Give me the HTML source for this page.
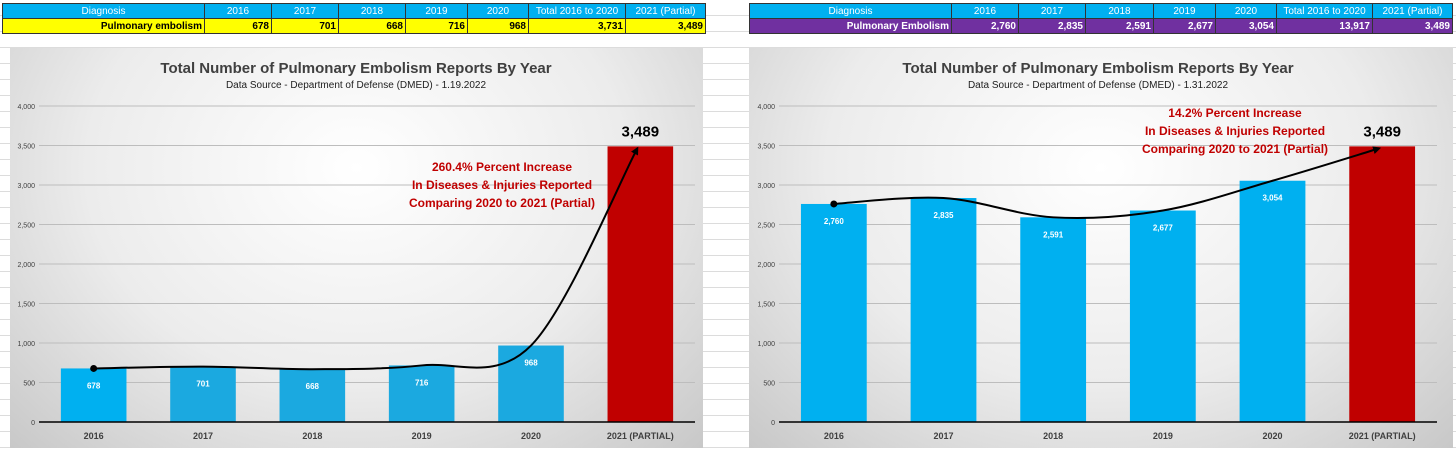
<!DOCTYPE html>
<html><head><meta charset="utf-8"><style>
body{margin:0;width:1456px;height:450px;overflow:hidden;background:#fff;font-family:"Liberation Sans",sans-serif;position:relative}
.grid{position:absolute;inset:0;background-image:repeating-linear-gradient(to bottom,transparent 0,transparent 15px,#dcdcdc 15px,#dcdcdc 16px)}
table{position:absolute;border-collapse:collapse;font-size:10px;font-weight:bold;table-layout:fixed}
td{border:1px solid #333;height:14px;padding:0 2px;text-align:right;white-space:nowrap;overflow:hidden}
tr.h td{background:#00b0f0;color:#fff;text-align:center;font-weight:normal}
.panel{position:absolute;top:48px;height:400px;background:radial-gradient(ellipse at 50% 30%,#fff 0%,#ececec 55%,#c8c8c8 100%)}
svg{position:absolute;left:0;top:0}
</style></head><body>
<div class="grid"></div>
<table style="left:2px;top:3px">
<colgroup><col style="width:202px"><col style="width:67px"><col style="width:67px"><col style="width:67px"><col style="width:62px"><col style="width:61px"><col style="width:97px"><col style="width:80px"></colgroup>
<tr class="h"><td>Diagnosis</td><td>2016</td><td>2017</td><td>2018</td><td>2019</td><td>2020</td><td>Total 2016 to 2020</td><td>2021 (Partial)</td></tr>
<tr style="background:#ffff00;color:#000"><td>Pulmonary embolism</td><td>678</td><td>701</td><td>668</td><td>716</td><td>968</td><td>3,731</td><td>3,489</td></tr></table>
<table style="left:749px;top:3px">
<colgroup><col style="width:202px"><col style="width:67px"><col style="width:67px"><col style="width:68px"><col style="width:62px"><col style="width:61px"><col style="width:96px"><col style="width:80px"></colgroup>
<tr class="h"><td>Diagnosis</td><td>2016</td><td>2017</td><td>2018</td><td>2019</td><td>2020</td><td>Total 2016 to 2020</td><td>2021 (Partial)</td></tr>
<tr style="background:#7030a0;color:#fff"><td>Pulmonary Embolism</td><td>2,760</td><td>2,835</td><td>2,591</td><td>2,677</td><td>3,054</td><td>13,917</td><td>3,489</td></tr></table>
<div class="panel" style="left:10px;width:693px"></div>
<div class="panel" style="left:749px;width:704px"></div>
<svg id="s" width="1456" height="450"></svg>
<script>
const categories=["2016","2017","2018","2019","2020","2021 (PARTIAL)"];
const leftValues=[678,701,668,716,968,3489];
const rightValues=[2760,2835,2591,2677,3054,3489];
const leftLabels=["678","701","668","716","968","3,489"];
const rightLabels=["2,760","2,835","2,591","2,677","3,054","3,489"];
const yTicks=[0,500,1000,1500,2000,2500,3000,3500,4000];
const yTickLabels=["0","500","1,000","1,500","2,000","2,500","3,000","3,500","4,000"];
const NS="http://www.w3.org/2000/svg",svg=document.getElementById('s');
function mk(t,a,p){const e=document.createElementNS(NS,t);for(const k in a)e.setAttribute(k,a[k]);(p||svg).appendChild(e);return e;}
const defs=mk('defs',{});
const m=mk('marker',{id:'ah',markerWidth:8,markerHeight:8,refX:6,refY:4,orient:'auto',markerUnits:'userSpaceOnUse'},defs);
mk('path',{d:'M0,0L8,4L0,8Z',fill:'#000'},m);
function yS(v){return 422-v*79/1000;}
function chart(ox,x0,x1,vals,labels,pfx,titleDate,ann,annX,annY){
  const xS=i=>x0+(i+0.5)*(x1-x0)/categories.length, bw=(x1-x0)/categories.length*0.6;
  const t=mk('text',{x:ox,y:73,'text-anchor':'middle','font-size':15,'font-weight':'bold',fill:'#404040'});t.textContent='Total Number of Pulmonary Embolism Reports By Year';
  
  const st=mk('text',{x:ox,y:88,'text-anchor':'middle','font-size':10,fill:'#202020'});st.textContent='Data Source - Department of Defense (DMED) - '+titleDate;
  
  yTicks.forEach((v,i)=>{
    if(v>0){const g=mk('line',{x1:x0,x2:x1,y1:yS(v),y2:yS(v),stroke:'#bdbdbd','stroke-width':1});}
    const l=mk('text',{x:x0-4,y:yS(v)+3,'text-anchor':'end','font-size':7,fill:'#404040'});l.textContent=yTickLabels[i];
    
  });
  vals.forEach((v,i)=>{
    const last=i===vals.length-1;
    const b=mk('rect',{x:xS(i)-bw/2,y:yS(v),width:bw,height:422-yS(v),fill:last?'#c00000':(pfx==='left'&&i>0?'#1ba9e0':'#00b0f0')});
    
    const lb=mk('text',{x:xS(i),y:last?yS(v)-10:yS(v)+20,'text-anchor':'middle','font-size':last?15:8,'font-weight':'bold',fill:last?'#000':'#fff'});lb.textContent=labels[i];
    
    const xl=mk('text',{x:xS(i),y:439,'text-anchor':'middle','font-size':9,'font-weight':'bold',fill:'#404040'});xl.textContent=categories[i];
    
  });
  const ax=mk('line',{x1:x0,x2:x1,y1:422,y2:422,stroke:'#000','stroke-width':1.5});
  const pts=vals.map((v,i)=>[xS(i),yS(v)]);
  pts[pts.length-1]=[xS(pts.length-1)-3,yS(vals[vals.length-1])+2];
  let d='M'+pts[0][0]+','+pts[0][1];
  for(let i=0;i<pts.length-1;i++){const p0=pts[Math.max(0,i-1)],p1=pts[i],p2=pts[i+1],p3=pts[Math.min(pts.length-1,i+2)];
    d+=' C'+(p1[0]+(p2[0]-p0[0])/6)+','+(p1[1]+(p2[1]-p0[1])/6)+' '+(p2[0]-(p3[0]-p1[0])/6)+','+(p2[1]-(p3[1]-p1[1])/6)+' '+p2[0]+','+p2[1];}
  const c=mk('path',{d:d,fill:'none',stroke:'#000','stroke-width':2,'marker-end':'url(#ah)'});
  const dot=mk('circle',{cx:pts[0][0],cy:pts[0][1],r:3.5,fill:'#000'});
  ann.forEach((s,i)=>{const a=mk('text',{x:annX,y:annY+i*18,'text-anchor':'middle','font-size':12,'font-weight':'bold',fill:'#c00000'});a.textContent=s;
    });
}
chart(356,39,695,leftValues,leftLabels,'left','1.19.2022',['260.4% Percent Increase','In Diseases & Injuries Reported','Comparing 2020 to 2021 (Partial)'],502,171);
chart(1098,779,1437,rightValues,rightLabels,'right','1.31.2022',['14.2% Percent Increase','In Diseases & Injuries Reported','Comparing 2020 to 2021 (Partial)'],1235,117);
</script>
</body></html>
